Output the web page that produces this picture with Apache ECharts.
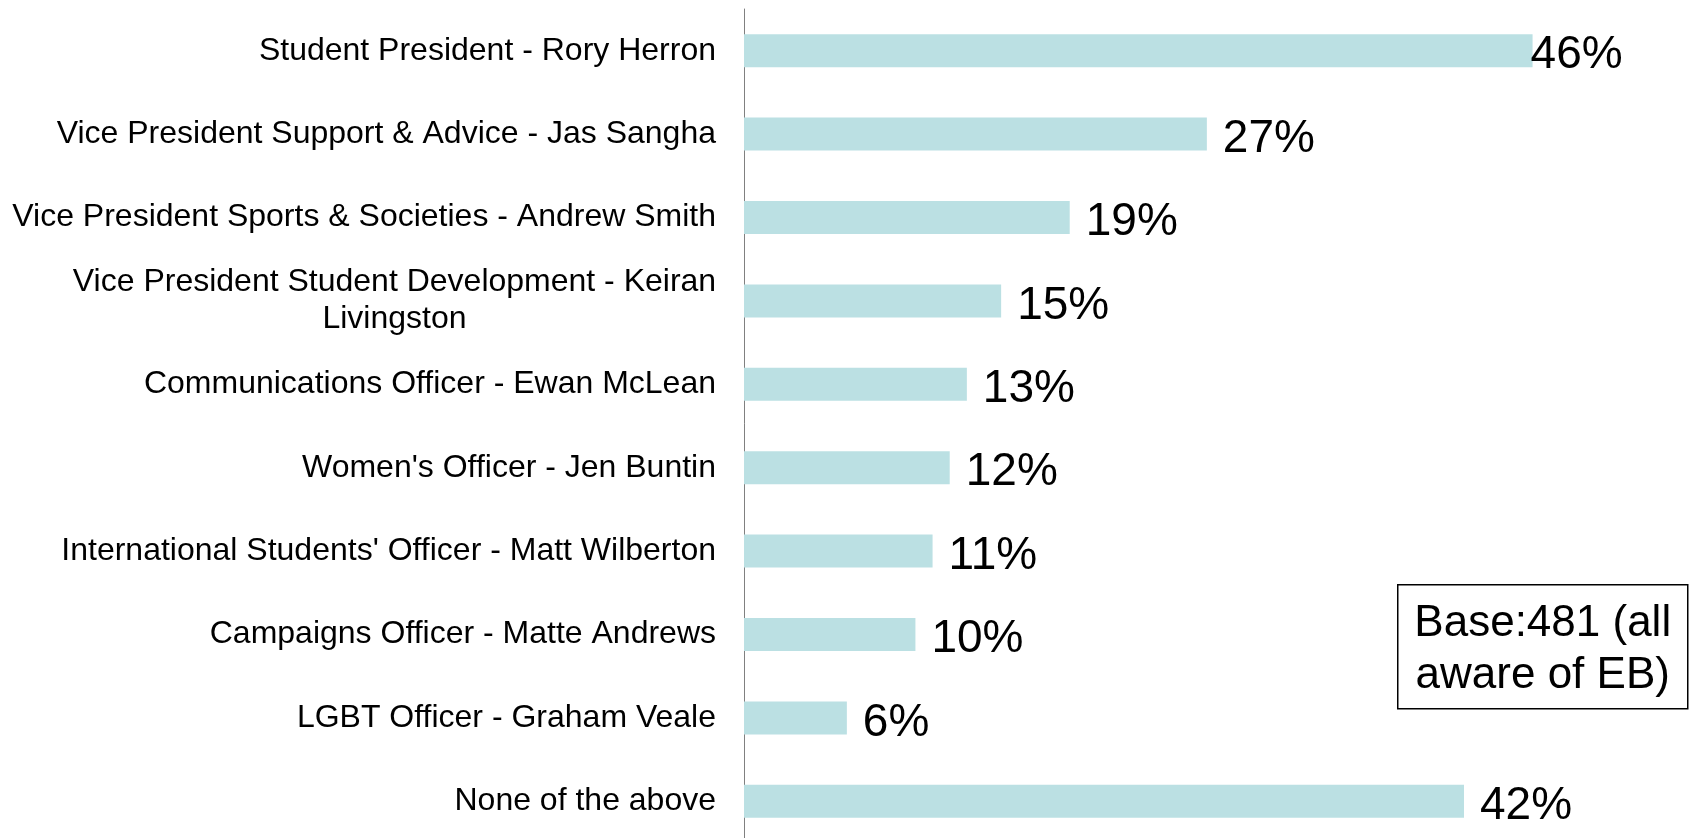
<!DOCTYPE html>
<html>
<head>
<meta charset="utf-8">
<script src="https://cdn.jsdelivr.net/npm/echarts@6/dist/echarts.min.js"></script>
<style>
  html, body { margin: 0; padding: 0; background: #fff; }
  #chart { width: 1704px; height: 838px; }
</style>
</head>
<body>
<div id="chart"></div>
<script>
const categories = [
  'Student President - Rory Herron',
  'Vice President Support & Advice - Jas Sangha',
  'Vice President Sports & Societies - Andrew Smith',
  'Vice President Student Development - Keiran\nLivingston',
  'Communications Officer - Ewan McLean',
  "Women's Officer - Jen Buntin",
  "International Students' Officer - Matt Wilberton",
  'Campaigns Officer - Matte Andrews',
  'LGBT Officer - Graham Veale',
  'None of the above'
]
const values = [46, 27, 19, 15, 13, 12, 11, 10, 6, 42]
const baseNote = 'Base:481 (all\naware of EB)'

const font = '"Liberation Sans", Arial, sans-serif'

const chart = echarts.init(document.getElementById('chart'))

const seriesData = values.map((v, i) => {
  const item = { value: v }
  // first label is tucked against the bar end in the original
  if (i === 0) item.label = { distance: -2 }
  return item
})

chart.setOption({
  animation: false,
  backgroundColor: '#ffffff',
  grid: { left: 744, top: 9, right: 0, height: 834, outerBoundsMode: 'none' },
  xAxis: {
    type: 'value',
    min: 0,
    max: 56,
    show: false
  },
  yAxis: {
    type: 'category',
    data: categories,
    inverse: true,
    axisLine: { show: true, lineStyle: { color: '#808080', width: 1 } },
    axisTick: { show: false },
    splitLine: { show: false },
    axisLabel: {
      margin: 28,
      fontFamily: font,
      fontSize: 32,
      color: '#000',
      lineHeight: 37,
      formatter: (val) => {
        if (val.indexOf('\n') >= 0) {
          return val.split('\n').map((s) => '{c|' + s + '}').join('\n')
        }
        return val
      },
      rich: {
        c: { width: 643, align: 'center', fontFamily: font, fontSize: 32, color: '#000', lineHeight: 37 }
      }
    }
  },
  series: [{
    type: 'bar',
    data: seriesData,
    barWidth: 33,
    itemStyle: { color: '#BBE0E3' },
    label: {
      show: true,
      position: 'right',
      distance: 16,
      formatter: '{c}%',
      fontFamily: font,
      fontSize: 46,
      color: '#000',
      offset: [0, 5]
    }
  }],
  graphic: [{
    type: 'group',
    left: 1397,
    top: 584,
    children: [{
      type: 'rect',
      shape: { x: 0, y: 0, width: 290, height: 124 },
      style: { fill: '#fff', stroke: '#000', lineWidth: 1.5 }
    }, {
      type: 'text',
      x: 145,
      y: 65,
      style: {
        text: baseNote,
        font: '44px "Liberation Sans", Arial, sans-serif',
        lineHeight: 52,
        fill: '#000',
        align: 'center',
        verticalAlign: 'middle'
      }
    }]
  }]
})
</script>
</body>
</html>
